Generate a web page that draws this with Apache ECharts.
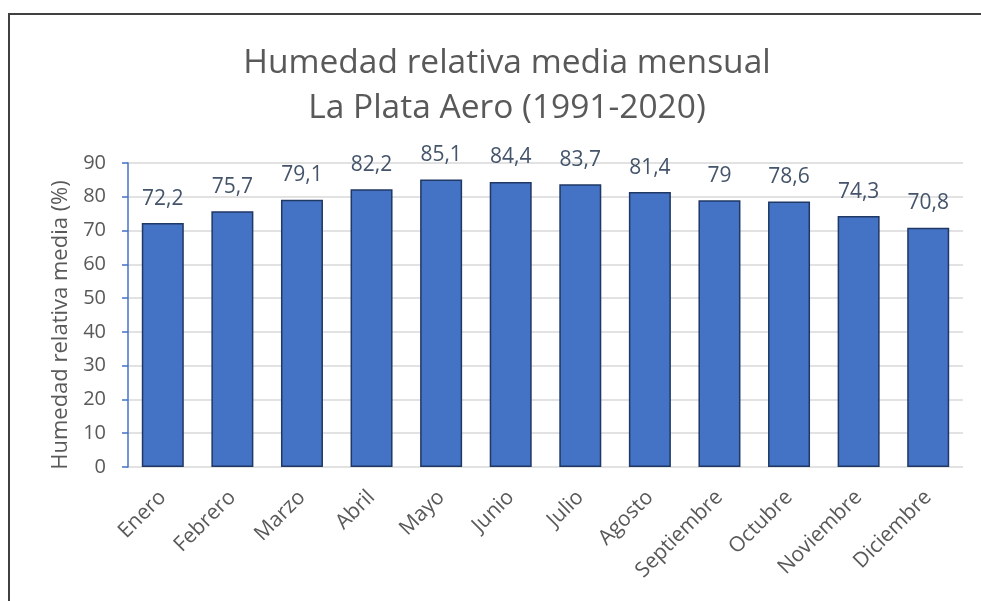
<!DOCTYPE html>
<html>
<head>
<meta charset="utf-8">
<script src="https://cdn.jsdelivr.net/npm/echarts@6/dist/echarts.min.js"></script>
<style>
  html, body { margin: 0; padding: 0; background: #fff; }
  #main { width: 981px; height: 601px; }
</style>
</head>
<body>
<div id="main"></div>
<script>
// meses y humedad media (%)
const meses = ['Enero', 'Febrero', 'Marzo', 'Abril', 'Mayo', 'Junio', 'Julio',
  'Agosto', 'Septiembre', 'Octubre', 'Noviembre', 'Diciembre']
const humedad = [72.2, 75.7, 79.1, 82.2, 85.1, 84.4, 83.7, 81.4, 79, 78.6, 74.3, 70.8]
const yTicks = [0, 10, 20, 30, 40, 50, 60, 70, 80, 90]

const fuente = 'Open Sans'
let myChart = echarts.init(document.getElementById('main'))
myChart.setOption({
  animation: false,
  title: {
    text: 'Humedad relativa media mensual\nLa Plata Aero (1991-2020)',
    left: 502,
    top: 36,
    textAlign: 'center',
    textStyle: {
      color: '#595959',
      fontFamily: fuente,
      fontSize: 33.5,
      fontWeight: 'normal',
      lineHeight: 45
    }
  },
  graphic: [{
    type: 'rect',
    shape: { x: 9, y: 14, width: 1000, height: 700 },
    style: { fill: 'none', stroke: '#404040', lineWidth: 2 }
  }],
  grid: { left: 128, right: 18, top: 163, bottom: 134 },
  xAxis: {
    type: 'category',
    data: meses,
    axisLine: { show: false },
    axisTick: { show: false },
    axisLabel: {
      rotate: 45,
      margin: 27,
      color: '#595959',
      fontFamily: fuente,
      fontSize: 21
    }
  },
  yAxis: {
    type: 'value',
    min: yTicks[0],
    max: yTicks[yTicks.length - 1],
    interval: 10,
    name: 'Humedad relativa media (%)',
    nameLocation: 'middle',
    nameGap: 55,
    nameTextStyle: { color: '#595959', fontFamily: fuente, fontSize: 22, padding: [0, 20, 0, 0] },
    axisLine: { show: true, lineStyle: { color: '#4472C4', width: 1.5 } },
    axisTick: { show: true, length: 6, lineStyle: { color: '#4472C4', width: 1.5 } },
    axisLabel: { margin: 22, color: '#595959', fontFamily: fuente, fontSize: 20 },
    splitLine: { lineStyle: { color: '#d9d9d9', width: 1.5 } }
  },
  series: [{
    type: 'bar',
    data: humedad,
    barWidth: 42,
    itemStyle: { color: '#4472C4', borderColor: '#1f3864', borderWidth: 1.5 },
    label: {
      show: true,
      position: 'top',
      distance: 14,
      color: '#44546A',
      fontFamily: fuente,
      fontSize: 21,
      formatter: function (p) {
        return String(p.value).replace('.', ',')
      }
    }
  }]
})
</script>
</body>
</html>
